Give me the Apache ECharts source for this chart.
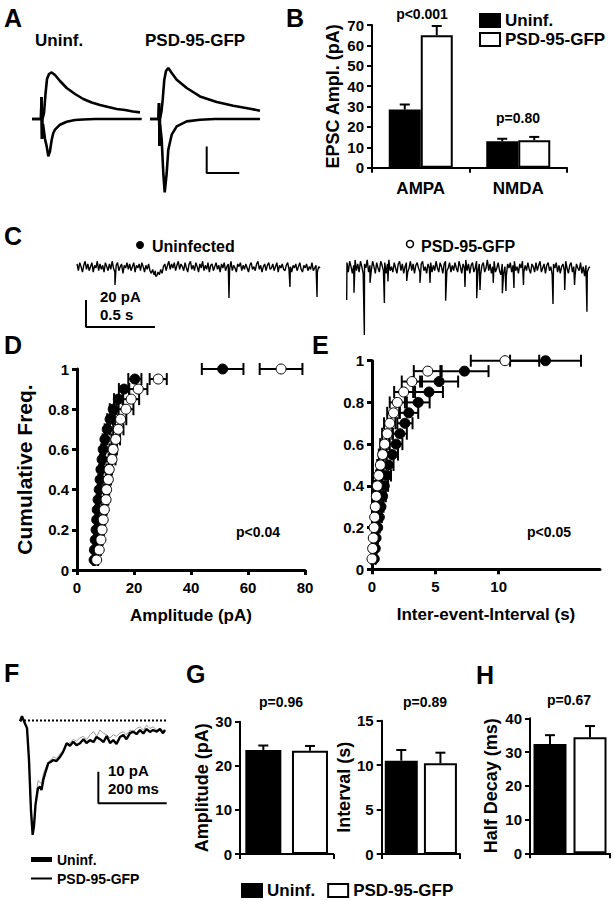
<!DOCTYPE html>
<html><head><meta charset="utf-8">
<script src="https://cdn.jsdelivr.net/npm/echarts@6/dist/echarts.min.js"></script>
<style>html,body{margin:0;padding:0;background:#fff}#c{width:614px;height:900px}</style>
</head><body><div id="c"></div>
<script>
// ---------- DATA ----------
// Panel A: evoked EPSC traces [time (a.u.), current (a.u.)]
const A_uninfUpper = [[7,0],[16,0],[16.5,22],[17,-20],[17.5,0],[19,6],[20.5,25],[22,40],[24,45],[26.7,46.6],[30,44],[35,38],[41.7,31],[50,25],[58.3,20],[66.7,16.5],[75,14],[83.3,12],[91.7,10],[100,9],[108,7.5],[115,6.6]];
const A_uninfLower = [[7,0],[16,0],[16.5,22],[17,-20],[18,-5],[20,-20],[21.7,-27.4],[23.3,-37.4],[25,-32],[26.7,-20.7],[28.3,-14],[30,-10.7],[35,-5.7],[41.7,-2.7],[50,-1],[58,-0.5],[70,0],[116.7,0]];
const A_psdUpper = [[125,0],[133.5,0],[134,16],[134.5,-27],[135,0],[136.5,8],[137.7,19.3],[139.3,39.3],[141,48],[143.3,51],[146,47],[151.7,39.3],[161.7,31],[175,22.6],[191.7,17],[208.3,13.3],[225,10.3],[235,8.3]];
const A_psdLower = [[125,0],[133.5,0],[134,16],[134.5,-27],[135,-5],[136.7,-20.7],[138.3,-54],[139.7,-73.4],[141.7,-54],[143.3,-30.7],[146.7,-15.7],[151.7,-7.4],[161.7,-2.4],[175,-0.7],[190,0],[235,0]];
const A_scaleBar = [[181.7,-27.4],[181.7,-54],[214.3,-54]];

// Panel B
const B_cats = ['AMPA', 'NMDA'];
const B_uninf = [28.5, 13.0];
const B_uninfErr = [2.5, 1.2];
const B_psd = [65.0, 13.5];
const B_psdErr = [4.5, 1.6];

// Panel C: spontaneous recordings (time s, current pA)
const C_leftStart = 0.051, C_leftEnd = 1.812;
const C_rightStart = 2.007, C_rightEnd = 3.768;
const C_leftNoise = [
 3,-2,4,1,-3,2,5,-1,3,-2,1,4,-3,2,0,5,-2,3,-1,2,
 -3,4,1,-2,3,-1,5,0,-3,2,4,-2,1,3,-4,2,0,4,-1,3,
 -2,1,4,-3,2,0,3,-2,4,1,-3,2,-1,3,-2,-4,-1,-5,-2,-6,
 -3,-5,-1,-4,1,3,-2,2,5,-1,3,0,4,-2,2,5,-1,3,1,-2,
 4,0,-3,3,5,-1,2,-2,4,1,-3,3,0,5,-2,2,-1,4,-3,2,
 3,-2,1,4,-1,2,-3,3,0,4,-2,1,3,-1,5,-2,2,0,-3,3,
 1,4,-2,2,-1,3,0,-3,2,4,-1,1,-2,3,5,-1,2,-3,1,3,
 -2,2,4,-1,0,3,-2,1,4,-3,2,0,3,-1,-2,2,4,-1,1,-3,
 2,0,3,-2,1,4,-1,-3,2,0,3,-2,1,-1,4,-2,0,2,-3,1,
 0];
const C_rightNoise = [
 4,-3,5,1,-4,2,6,-2,3,-3,5,1,-4,3,0,6,-3,2,-2,5,
 1,-4,4,0,-3,5,2,-2,4,-4,3,6,-2,1,-3,4,0,-4,3,5,
 -2,3,-4,1,4,-3,0,5,-2,3,-4,2,4,0,-3,3,5,-2,1,-4,
 3,0,4,-3,2,-2,5,0,-3,4,1,-4,3,5,-2,0,4,-3,2,-2,
 4,0,-3,5,1,-4,3,0,6,-2,3,-4,2,4,-3,0,5,-2,3,-5,
 2,4,-3,0,6,-2,3,-4,1,5,-3,0,4,-2,-5,3,-4,1,-6,3,
 0,4,-3,2,5,-2,1,-4,3,0,5,-3,2,-2,4,-1,-4,3,1,-3,
 4,-2,2,5,-3,0,3,-4,2,4,-2,1,-5,3,0,4,-3,2,-4,1,
 3,-2,5,0,-4,2,4,-3,1,-5,3,0,-2,4,-4,1,-6,2,-3,0,
 1];
const C_leftEvents = [[0.326,-12.6],[0.62,-6],[1.152,-22.2],[1.594,-14],[1.79,-21.5]];
const C_rightEvents = [[2.005,-23.7],[2.058,-18.3],[2.133,-49.6],[2.174,-11],[2.278,-26],[2.304,-10],[2.44,-9.6],[2.536,-11],[2.609,-11],[2.722,-24.2],[2.862,-14],[2.947,-22.4],[2.971,-16.3],[3.067,-11],[3.133,-18.7],[3.159,-17],[3.217,-14.8],[3.286,-12.6],[3.5,-26.7],[3.585,-16.3],[3.656,-12.6],[3.746,-32.4]];
const C_scaleBar = [[0.116,-23.7],[0.116,-43.7],[0.616,-43.7]];

// Panels D and E: cumulative distributions
const cumLevels = [0.05,0.10,0.15,0.20,0.25,0.30,0.35,0.40,0.45,0.50,0.55,0.60,0.65,0.70,0.75,0.80,0.85,0.90,0.95,1.00];
const D_uninfAmp = [6.0,6.1,6.4,6.7,6.9,7.1,7.4,7.8,8.1,8.4,8.8,9.2,9.8,10.6,11.6,12.7,14.5,16.5,20.3,51.1];
const D_uninfErr = [0.3,0.3,0.4,0.4,0.4,0.5,0.5,0.5,0.6,0.6,0.7,0.7,0.8,0.9,1.0,1.2,1.5,1.8,2.3,7.3];
const D_psdAmp = [6.9,7.8,8.4,8.8,9.2,9.6,10.2,10.4,11.0,11.3,12.3,12.7,13.6,14.5,15.3,17.2,19.0,21.5,28.5,71.6];
const D_psdErr = [0.5,0.6,0.6,0.7,0.7,0.8,0.8,0.9,0.9,1.0,1.2,1.3,1.5,1.8,2.0,2.6,2.8,3.2,3.0,7.5];
const E_uninfIEI = [0.18,0.26,0.32,0.45,0.58,0.71,0.84,0.97,1.15,1.3,1.6,1.9,2.2,2.6,2.9,3.65,4.5,5.3,7.3,13.7];
const E_uninfErr = [0.1,0.1,0.15,0.15,0.2,0.2,0.25,0.3,0.35,0.4,0.45,0.5,0.55,0.6,0.75,0.9,1.1,1.5,1.9,2.8];
const E_psdIEI = [0.0,0.05,0.1,0.16,0.21,0.26,0.34,0.42,0.53,0.66,0.84,1.0,1.2,1.4,1.7,2.0,2.5,3.15,4.4,10.5];
const E_psdErr = [0.05,0.05,0.1,0.1,0.1,0.15,0.15,0.2,0.2,0.25,0.3,0.35,0.4,0.45,0.5,0.6,0.75,0.8,1.1,2.7];
const E_ticksX = [0,5,10,15];

// Panel F: averaged mEPSC (ms, pA)
const F_uninf = [[0,-0.2],[5.8,1.4],[11.7,-0.2],[20.5,-2.4],[26.3,-12.5],[32,-28.3],[37,-36.2],[40.9,-33.4],[45.3,-26.7],[48.8,-24.1],[52.6,-21.4],[58.5,-21],[62.9,-22],[68,-18.8],[74.6,-16.3],[82.7,-13.5],[89.2,-13.1],[97.4,-12.5],[106.7,-12.8],[117,-11.5],[125.7,-10],[136.5,-7.2],[146.2,-8],[155.8,-6.7],[165.2,-7.8],[175.4,-7.2],[185.7,-5.9],[194.4,-7.1],[204.7,-6.2],[214.9,-6.8],[223.7,-5.2],[233.9,-5.9],[244.2,-6.8],[253.5,-4.9],[263.2,-7.1],[272.8,-6.2],[282.2,-7.4],[292.4,-5.2],[302,-4.6],[311.4,-5.9],[321.6,-4],[331.3,-3.5],[340.6,-4.3],[350.9,-3],[360.5,-4.1],[369.9,-2.7],[380.1,-3.6],[388.9,-3],[399.7,-3.5],[409.4,-2.7],[418.1,-4],[424,-3]];
const F_psd = [[0,0],[6,1],[12,0],[20,-2.5],[26,-12],[32,-28],[37,-35.5],[41,-33],[45,-27],[49,-22],[53,-19],[58,-19.5],[63,-20],[68,-17],[75,-15],[83,-13],[90,-12.5],[98,-11.5],[107,-12],[117,-10.5],[126,-9.5],[137,-7.5],[146,-7],[156,-6],[165,-6.5],[175,-5.5],[186,-5],[195,-6],[205,-4.5],[215,-3.5],[224,-5],[234,-3],[244,-4],[254,-4.5],[263,-5.5],[273,-4.5],[282,-5],[292,-4],[302,-3.5],[311,-4.5],[322,-3],[331,-3.5],[341,-2.5],[351,-2],[361,-3],[370,-1.5],[380,-2.5],[389,-2],[400,-3],[409,-2.5],[418,-3.5],[424,-2.8]];
const F_baseline = [[0,0],[429,0]];
const F_scaleBar = [[229,-16.2],[229,-26.2],[429,-26.2]];

// Panels G and H
const groups = ['Uninf.', 'PSD-95-GFP'];
const G_amp = [23.6, 23.4];
const G_ampErr = [1.0, 1.1];
const G_int = [10.5, 10.2];
const G_intErr = [1.2, 1.2];
const H_decay = [32.4, 34.4];
const H_decayErr = [2.6, 3.3];

// ---------- CHART ----------
const FONT = '"Liberation Sans", Arial, sans-serif';
const FILLS = ['#000', '#fff'];
const chart = echarts.init(document.getElementById('c'), null, {renderer: 'svg'});

function traceWithEvents(start, end, noise, events) {
  const step = (end - start) / (noise.length - 1);
  const pts = noise.map((v, i) => [start + i * step, v]);
  return pts.concat(events).sort((a, b) => a[0] - b[0]);
}
function hiddenAxis(gi, min, max) {
  return {type: 'value', gridIndex: gi, min, max, show: false, splitLine: {show: false}};
}
function valAxis(gi, extra) {
  return Object.assign({
    type: 'value', gridIndex: gi, splitLine: {show: false},
    axisLine: {show: true, onZero: false, lineStyle: {color: '#000', width: 2}},
    axisTick: {show: true, length: 5, lineStyle: {color: '#000', width: 2}},
    axisLabel: {color: '#000', fontSize: 15, fontWeight: 'bold', fontFamily: FONT, margin: 8},
    nameLocation: 'middle',
    nameTextStyle: {color: '#000', fontSize: 18, fontWeight: 'bold', fontFamily: FONT}
  }, extra);
}
function catAxis(gi, data, extra) {
  return Object.assign({
    type: 'category', gridIndex: gi, data,
    axisLine: {show: true, lineStyle: {color: '#000', width: 2}},
    axisTick: {show: true, length: 5, alignWithLabel: false, lineStyle: {color: '#000', width: 2}},
    axisLabel: {show: false}
  }, extra);
}
function line(xi, data, color, width, extra) {
  return Object.assign({type: 'line', xAxisIndex: xi, yAxisIndex: xi, data, showSymbol: false, symbol: 'none',
    lineStyle: {color, width}, silent: true, z: 3}, extra);
}
function vErr(offset) {
  return function (params, api) {
    const c = api.value(0), v = api.value(1), e = api.value(2);
    const p0 = api.coord([c, v]), p1 = api.coord([c, v + e]);
    const x = p0[0] + offset;
    const st = {stroke: '#000', lineWidth: 2};
    return {type: 'group', children: [
      {type: 'line', shape: {x1: x, y1: p0[1], x2: x, y2: p1[1]}, style: st},
      {type: 'line', shape: {x1: x - 5, y1: p1[1], x2: x + 5, y2: p1[1]}, style: st}
    ]};
  };
}
function hErr(params, api) {
  const x = api.value(0), y = api.value(1), e = api.value(2);
  const a = api.coord([x - e, y]), b = api.coord([x + e, y]);
  const st = {stroke: '#000', lineWidth: 2};
  return {type: 'group', children: [
    {type: 'line', shape: {x1: a[0], y1: a[1], x2: b[0], y2: b[1]}, style: st},
    {type: 'line', shape: {x1: a[0], y1: a[1] - 6, x2: a[0], y2: a[1] + 6}, style: st},
    {type: 'line', shape: {x1: b[0], y1: b[1] - 6, x2: b[0], y2: b[1] + 6}, style: st}
  ]};
}
function barSet(gi, vals, errs, bw) {
  return [
    {type: 'bar', xAxisIndex: gi, yAxisIndex: gi, barWidth: bw, silent: true,
     data: vals.map((v, i) => ({value: v, itemStyle: {color: FILLS[i], borderColor: '#000', borderWidth: 2}}))},
    {type: 'custom', xAxisIndex: gi, yAxisIndex: gi, silent: true, z: 4, renderItem: vErr(0),
     data: vals.map((v, i) => [i, v, errs[i]]), encode: {x: 0, y: 1}}
  ];
}
function txt(x, y, text, size, align, extra) {
  return Object.assign({type: 'text', x, y, silent: true, style: {text, fill: '#000', align: align || 'left', verticalAlign: 'middle',
    font: 'bold ' + size + 'px ' + FONT}}, extra);
}

const grids = [
  {left: 25, top: 59, width: 235, height: 140},        // 0 A
  {left: 372, top: 25, width: 195, height: 142.7},     // 1 B
  {left: 70, top: 257.2, width: 531.3, height: 81},    // 2 C
  {left: 77, top: 369, width: 228, height: 201},       // 3 D
  {left: 372, top: 360.7, width: 228, height: 208.6},  // 4 E
  {left: 20, top: 707.9, width: 148.8, height: 132.7}, // 5 F
  {left: 240, top: 721.7, width: 93.3, height: 132.3}, // 6 G amp
  {left: 381.7, top: 720.7, width: 78.3, height: 133.3}, // 7 G int
  {left: 530, top: 718.3, width: 80, height: 135}      // 8 H
];

const thick = {
  axisLine: {show: true, onZero: false, lineStyle: {color: '#000', width: 3}},
  axisTick: {show: true, length: 5, lineStyle: {color: '#000', width: 3}}
};
const xAxes = [
  hiddenAxis(0, 0, 235),
  catAxis(1, B_cats, {axisLabel: {show: true, color: '#000', fontSize: 17, fontWeight: 'bold', fontFamily: FONT, margin: 12}}),
  hiddenAxis(2, 0, 3.85),
  valAxis(3, Object.assign({}, thick, {min: 0, max: 80, interval: 20, name: 'Amplitude (pA)', nameGap: 37,
    axisLabel: {color: '#000', fontSize: 15, fontWeight: 'bold', fontFamily: FONT, margin: 10},
    nameTextStyle: {color: '#000', fontSize: 17, fontWeight: 'bold', fontFamily: FONT}})),
  valAxis(4, Object.assign({}, thick, {min: 0, max: 18, interval: 5, name: 'Inter-event-Interval (s)', nameGap: 37,
    axisTick: {show: true, length: 5, customValues: E_ticksX, lineStyle: {color: '#000', width: 3}},
    axisLabel: {color: '#000', fontSize: 15, fontWeight: 'bold', fontFamily: FONT, margin: 10, customValues: E_ticksX, showMaxLabel: false},
    nameTextStyle: {color: '#000', fontSize: 17, fontWeight: 'bold', fontFamily: FONT}})),
  hiddenAxis(5, 0, 435),
  catAxis(6, groups),
  catAxis(7, groups),
  catAxis(8, groups)
];
const yAxes = [
  hiddenAxis(0, -80, 60),
  valAxis(1, {min: 0, max: 70, interval: 10, name: 'EPSC Ampl. (pA)', nameGap: 30}),
  hiddenAxis(2, -52, 8),
  valAxis(3, Object.assign({}, thick, {min: 0, max: 1, interval: 0.2, name: 'Cumulative Freq.', nameGap: 42,
    nameTextStyle: {color: '#000', fontSize: 21, fontWeight: 'bold', fontFamily: FONT}})),
  valAxis(4, Object.assign({}, thick, {min: 0, max: 1, interval: 0.2})),
  hiddenAxis(5, -38, 4),
  valAxis(6, {min: 0, max: 30, interval: 10, name: 'Amplitude (pA)', nameGap: 26}),
  valAxis(7, {min: 0, max: 15, interval: 5, name: 'Interval (s)', nameGap: 22}),
  valAxis(8, {min: 0, max: 40, interval: 10, name: 'Half Decay (ms)', nameGap: 30})
];

const series = [
  // B bars (named for legends)
  {type: 'bar', name: 'Uninf.', xAxisIndex: 1, yAxisIndex: 1, data: B_uninf, barWidth: 32, barGap: '0%', silent: true,
   itemStyle: {color: '#000', borderColor: '#000', borderWidth: 2}},
  {type: 'bar', name: 'PSD-95-GFP', xAxisIndex: 1, yAxisIndex: 1, data: B_psd, barWidth: 32, barGap: '0%', silent: true,
   itemStyle: {color: '#fff', borderColor: '#000', borderWidth: 2}},
  {type: 'custom', xAxisIndex: 1, yAxisIndex: 1, silent: true, z: 4, renderItem: vErr(-16),
   data: B_uninf.map((v, i) => [i, v, B_uninfErr[i]]), encode: {x: 0, y: 1}},
  {type: 'custom', xAxisIndex: 1, yAxisIndex: 1, silent: true, z: 4, renderItem: vErr(16),
   data: B_psd.map((v, i) => [i, v, B_psdErr[i]]), encode: {x: 0, y: 1}},
  // A traces
  line(0, A_uninfUpper, '#000', 2.6), line(0, A_uninfLower, '#000', 2.6),
  line(0, A_psdUpper, '#000', 2.6), line(0, A_psdLower, '#000', 2.6),
  line(0, A_scaleBar, '#000', 2),
  // C traces
  line(2, traceWithEvents(C_leftStart, C_leftEnd, C_leftNoise, C_leftEvents), '#000', 1.4),
  line(2, traceWithEvents(C_rightStart, C_rightEnd, C_rightNoise, C_rightEvents), '#000', 1.4),
  line(2, C_scaleBar, '#000', 2),
  // D
  {type: 'custom', xAxisIndex: 3, yAxisIndex: 3, silent: true, z: 2, renderItem: hErr,
   data: D_uninfAmp.map((x, i) => [x, cumLevels[i], D_uninfErr[i]]), encode: {x: 0, y: 1}},
  {type: 'scatter', xAxisIndex: 3, yAxisIndex: 3, silent: true, z: 3, symbolSize: 10,
   itemStyle: {color: '#000', borderColor: '#000', borderWidth: 1, opacity: 1},
   data: D_uninfAmp.map((x, i) => [x, cumLevels[i]])},
  {type: 'custom', xAxisIndex: 3, yAxisIndex: 3, silent: true, z: 4, renderItem: hErr,
   data: D_psdAmp.map((x, i) => [x, cumLevels[i], D_psdErr[i]]), encode: {x: 0, y: 1}},
  {type: 'scatter', xAxisIndex: 3, yAxisIndex: 3, silent: true, z: 5, symbolSize: 10,
   itemStyle: {color: '#fff', borderColor: '#000', borderWidth: 1, opacity: 1},
   data: D_psdAmp.map((x, i) => [x, cumLevels[i]])},
  // E
  {type: 'custom', xAxisIndex: 4, yAxisIndex: 4, silent: true, z: 2, renderItem: hErr,
   data: E_uninfIEI.map((x, i) => [x, cumLevels[i], E_uninfErr[i]]), encode: {x: 0, y: 1}},
  {type: 'scatter', xAxisIndex: 4, yAxisIndex: 4, silent: true, z: 3, symbolSize: 10,
   itemStyle: {color: '#000', borderColor: '#000', borderWidth: 1, opacity: 1},
   data: E_uninfIEI.map((x, i) => [x, cumLevels[i]])},
  {type: 'custom', xAxisIndex: 4, yAxisIndex: 4, silent: true, z: 4, renderItem: hErr,
   data: E_psdIEI.map((x, i) => [x, cumLevels[i], E_psdErr[i]]), encode: {x: 0, y: 1}},
  {type: 'scatter', xAxisIndex: 4, yAxisIndex: 4, silent: true, z: 5, symbolSize: 10,
   itemStyle: {color: '#fff', borderColor: '#000', borderWidth: 1, opacity: 1},
   data: E_psdIEI.map((x, i) => [x, cumLevels[i]])},
  // F
  line(5, F_baseline, '#000', 2, {lineStyle: {color: '#000', width: 2, type: [2, 2]}}),
  line(5, F_psd, '#999', 1),
  line(5, F_uninf, '#000', 2.4),
  line(5, F_scaleBar, '#000', 2)
]
  .concat(barSet(6, G_amp, G_ampErr, 36))
  .concat(barSet(7, G_int, G_intErr, 33))
  .concat(barSet(8, H_decay, H_decayErr, 33));

const legendText = {color: '#000', fontWeight: 'bold', fontFamily: FONT};
const legends = [
  {orient: 'vertical', left: 479, top: 12, padding: 0, itemWidth: 20, itemHeight: 13, itemGap: 2, icon: 'rect',
   selectedMode: false, textStyle: Object.assign({fontSize: 17}, legendText), data: ['Uninf.', 'PSD-95-GFP']},
  {orient: 'horizontal', left: 241, top: 882, padding: 0, itemWidth: 20, itemHeight: 13, itemGap: 12, icon: 'rect',
   selectedMode: false, textStyle: Object.assign({fontSize: 17}, legendText), data: ['Uninf.', 'PSD-95-GFP']},
  {left: 31, top: 852, padding: 0, itemWidth: 21, itemHeight: 5, selectedMode: false,
   textStyle: Object.assign({fontSize: 14, lineHeight: 15}, legendText),
   data: [{name: 'Uninf.', icon: 'rect', itemStyle: {color: '#000', borderWidth: 0}}]},
  {left: 31, top: 871, padding: 0, itemWidth: 21, itemHeight: 2, selectedMode: false,
   textStyle: Object.assign({fontSize: 14, lineHeight: 15}, legendText),
   data: [{name: 'PSD-95-GFP', icon: 'rect', itemStyle: {color: '#000', borderWidth: 0}}]}
];

const graphic = [
  txt(4, 18, 'A', 25), txt(286, 18, 'B', 25), txt(4, 236, 'C', 25), txt(4, 345, 'D', 25),
  txt(312, 345, 'E', 25), txt(4, 673, 'F', 25), txt(186, 674, 'G', 25), txt(476, 675, 'H', 25),
  txt(35, 40, 'Uninf.', 17), txt(145, 40, 'PSD-95-GFP', 17),
  txt(422, 14, 'p<0.001', 14, 'center'), txt(518, 118, 'p=0.80', 14, 'center'),
  {type: 'circle', shape: {cx: 140, cy: 245, r: 4}, style: {fill: '#000'}, silent: true},
  txt(152, 246, 'Uninfected', 16),
  {type: 'circle', shape: {cx: 410, cy: 244, r: 3.5}, style: {fill: '#fff', stroke: '#000', lineWidth: 1.5}, silent: true},
  txt(421, 246, 'PSD-95-GFP', 16),
  txt(100, 296, '20 pA', 15), txt(100, 314, '0.5 s', 15),
  txt(258, 532, 'p<0.04', 14, 'center'), txt(549, 532, 'p<0.05', 14, 'center'),
  txt(108, 770, '10 pA', 15), txt(108, 788, '200 ms', 15),
  txt(281, 702, 'p=0.96', 14, 'center'), txt(425, 702, 'p=0.89', 14, 'center'), txt(569, 700, 'p=0.67', 14, 'center')
];

chart.setOption({
  animation: false,
  textStyle: {fontFamily: FONT},
  grid: grids, xAxis: xAxes, yAxis: yAxes, series, legend: legends, graphic
});
</script></body></html>
